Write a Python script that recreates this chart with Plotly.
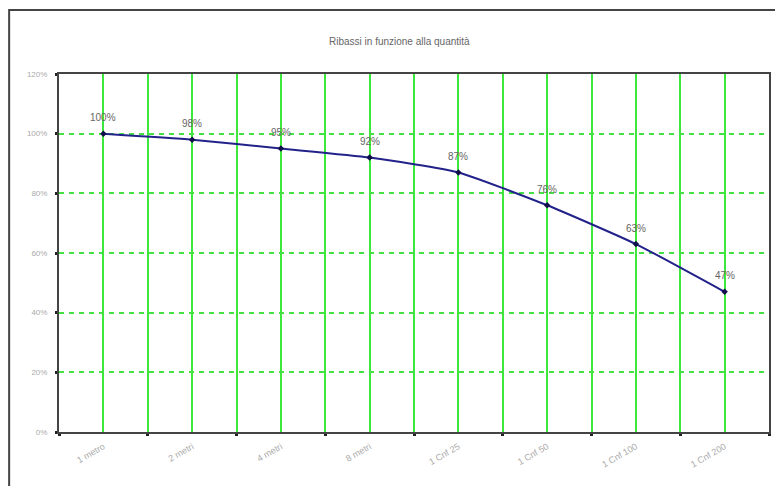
import plotly.graph_objects as go

categories = ["1 metro", "2 metri", "4 metri", "8 metri", "1 Cnf 25", "1 Cnf 50", "1 Cnf 100", "1 Cnf 200"]
values = [100, 98, 95, 92, 87, 76, 63, 47]
value_labels = ["100%", "98%", "95%", "92%", "87%", "76%", "63%", "47%"]
y_ticks = [0, 20, 40, 60, 80, 100, 120]
y_tick_labels = ["0%", "20%", "40%", "60%", "80%", "100%", "120%"]
title_text = "Ribassi in funzione alla quantità"

xs = list(range(len(categories)))

fig = go.Figure()
fig.add_trace(go.Scatter(
    x=xs, y=values, mode="lines+markers",
    line=dict(color="#22228a", width=2, shape="spline", smoothing=0.5),
    marker=dict(color="#10104a", size=5, symbol="diamond"),
    hoverinfo="skip", showlegend=False,
))

for x, v, t in zip(xs, values, value_labels):
    fig.add_annotation(x=x, y=v, text=t, showarrow=False, yshift=16,
                       font=dict(family="Liberation Sans, Arial", size=10, color="#666666"))

fig.add_annotation(xref="paper", yref="paper", x=0.479, y=1.0, yshift=40,
                   text=title_text, showarrow=False,
                   font=dict(family="Liberation Sans, Arial", size=10, color="#666666"))

# outer chart frame
fig.add_shape(type="rect", xref="paper", yref="paper",
              x0=-50 / 712, x1=1.0126, y0=-0.2, y1=1.0 + 64 / 358,
              line=dict(color="#444444", width=2), layer="below")

fig.update_layout(
    width=775, height=478,
    margin=dict(l=51, r=12, t=66, b=54),
    paper_bgcolor="white", plot_bgcolor="white",
    font=dict(family="Liberation Sans, Arial", size=8, color="#999999"),
    xaxis=dict(
        range=[-0.5, len(categories) - 0.5],
        tickmode="array", tickvals=xs, ticktext=categories,
        tickangle=-30, ticks="", showgrid=True,
        gridcolor="#3be83b", gridwidth=2,
        showline=True, linecolor="#444444", linewidth=2, mirror=True,
        zeroline=False, ticklabelstandoff=4,
        tickfont=dict(size=9, color="#aaaaaa"),
        minor=dict(tickmode="array",
                   tickvals=[i - 0.5 for i in range(len(categories) + 1)],
                   showgrid=True, gridcolor="#3be83b", gridwidth=2,
                   ticks="outside", ticklen=2, tickwidth=3, tickcolor="#222222"),
    ),
    yaxis=dict(
        range=[0, 120], tickmode="array", tickvals=y_ticks, ticktext=y_tick_labels,
        showgrid=True, gridcolor="#44e044", gridwidth=1.5, griddash="5px,5px",
        showline=True, linecolor="#444444", linewidth=2, mirror=True,
        zeroline=False, ticks="outside", ticklen=2, tickwidth=3, tickcolor="#222222",
        ticklabelstandoff=6,
        tickfont=dict(size=8, color="#aaaaaa"),
    ),
)

fig.write_html("out.html")
